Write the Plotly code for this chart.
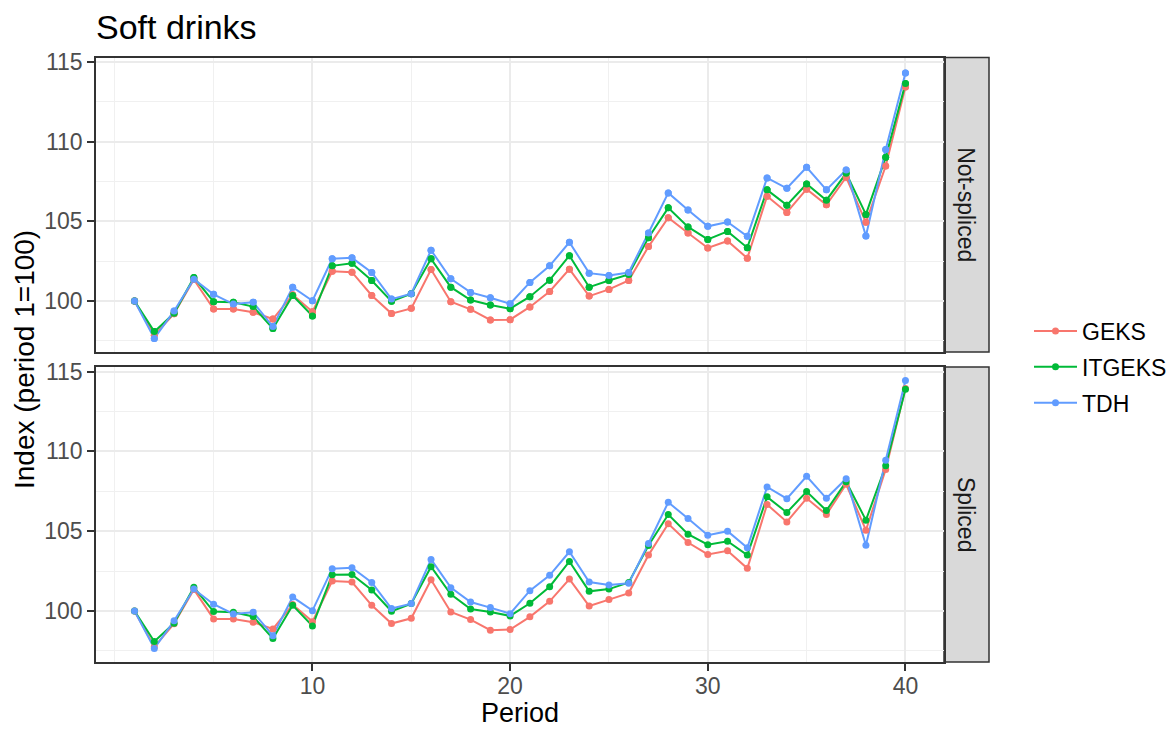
import plotly.graph_objects as go

periods = list(range(1, 41))
series_names = ["GEKS", "ITGEKS", "TDH"]
series_colors = ["#F8766D", "#00BA38", "#619CFF"]
panel_labels = ["Not-spliced", "Spliced"]

geks_not_spliced = [100, 97.85, 99.2, 101.35, 99.5, 99.5, 99.29, 98.87, 100.4, 99.33,
                    101.87, 101.81, 100.35, 99.21, 99.54, 101.98, 99.96, 99.48, 98.81, 98.83,
                    99.63, 100.6, 102.0, 100.31, 100.73, 101.29, 103.42, 105.23, 104.27, 103.33,
                    103.77, 102.69, 106.58, 105.56, 107.02, 106.04, 107.77, 104.94, 108.48, 113.44]
itgeks_not_spliced = [100, 98.08, 99.23, 101.48, 99.96, 99.92, 99.65, 98.27, 100.35, 99.06,
                      102.21, 102.37, 101.29, 99.98, 100.46, 102.65, 100.87, 100.06, 99.75, 99.52,
                      100.27, 101.31, 102.85, 100.87, 101.29, 101.67, 103.98, 105.85, 104.65, 103.87,
                      104.37, 103.35, 106.98, 106.02, 107.35, 106.33, 108.02, 105.44, 109.02, 113.65]
tdh_not_spliced = [100, 97.65, 99.38, 101.37, 100.42, 99.81, 99.92, 98.4, 100.87, 100.02,
                   102.65, 102.71, 101.79, 100.12, 100.46, 103.19, 101.4, 100.54, 100.21, 99.83,
                   101.17, 102.21, 103.69, 101.75, 101.6, 101.79, 104.27, 106.79, 105.71, 104.69,
                   104.96, 104.06, 107.73, 107.08, 108.4, 106.98, 108.23, 104.08, 109.52, 114.31]

geks_spliced = [100, 97.75, 99.2, 101.35, 99.5, 99.5, 99.29, 98.87, 100.4, 99.33,
                101.87, 101.81, 100.35, 99.21, 99.54, 101.96, 99.94, 99.46, 98.79, 98.83,
                99.63, 100.6, 102.0, 100.31, 100.71, 101.12, 103.5, 105.46, 104.29, 103.54,
                103.77, 102.67, 106.67, 105.58, 107.06, 106.04, 107.94, 105.06, 108.87, 113.95]
itgeks_spliced = [100, 98.08, 99.23, 101.48, 99.96, 99.92, 99.65, 98.27, 100.35, 99.06,
                  102.27, 102.29, 101.31, 99.98, 100.46, 102.77, 101.04, 100.12, 99.94, 99.69,
                  100.48, 101.52, 103.1, 101.23, 101.37, 101.79, 104.1, 106.04, 104.81, 104.15,
                  104.37, 103.5, 107.15, 106.17, 107.48, 106.29, 108.1, 105.69, 109.1, 113.9]
tdh_spliced = [100, 97.65, 99.38, 101.37, 100.42, 99.81, 99.92, 98.45, 100.87, 100.02,
               102.65, 102.71, 101.79, 100.15, 100.46, 103.23, 101.46, 100.56, 100.21, 99.83,
               101.27, 102.23, 103.71, 101.81, 101.62, 101.73, 104.23, 106.81, 105.79, 104.75,
               105.0, 103.96, 107.77, 107.04, 108.44, 107.06, 108.29, 104.12, 109.44, 114.44]

x_ticks = [10, 20, 30, 40]
x_minor = [0, 5, 15, 25, 35]
y_ticks = [100, 105, 110, 115]
y_minor = [97.5, 102.5, 107.5, 112.5]

# page has an 8px body margin; figure sized so it fits the 1176x735 window
OFF = 8
W, H = 1176 - 2 * OFF, 735 - 2 * OFF
FONT = "Liberation Sans, Arial, sans-serif"


def px_x(p):
    return (p - OFF) / W


def px_y(p):
    return 1 - (p - OFF) / H


panels = [
    ("x2", "y2", [geks_not_spliced, itgeks_not_spliced, tdh_not_spliced]),
    ("x", "y", [geks_spliced, itgeks_spliced, tdh_spliced]),
]

fig = go.Figure()
for pi, (xa, ya, data) in enumerate(panels):
    for name, col, vals in zip(series_names, series_colors, data):
        fig.add_trace(go.Scatter(
            x=periods, y=vals, xaxis=xa, yaxis=ya, name=name,
            mode="lines+markers" if pi == 0 else "lines",
            line=dict(color=col, width=2), marker=dict(color=col, size=7),
            legendgroup=name, showlegend=(pi == 0), hoverinfo="skip"))
    for name, col, vals in zip(series_names, series_colors, data):
        fig.add_trace(go.Scatter(
            x=periods, y=vals, xaxis=xa, yaxis=ya, name=name, mode="markers",
            marker=dict(color=col, size=7), legendgroup=name,
            showlegend=False, hoverinfo="skip"))

x_dom = [px_x(96), px_x(944)]
top_dom = [px_y(352), px_y(57.5)]
bot_dom = [px_y(662), px_y(367)]
xr = [-0.95, 41.95]
yr = [96.80, 115.29]

common_x = dict(range=xr, domain=x_dom, showline=True, mirror=True, linecolor="#333333",
                linewidth=1.5, showgrid=True, gridcolor="#ebebeb", gridwidth=2,
                tickmode="array", tickvals=x_ticks, zeroline=False, automargin=False,
                minor=dict(tickmode="array", tickvals=x_minor, showgrid=True,
                           gridcolor="#f0f0f0", gridwidth=1, ticks=""))
common_y = dict(range=yr, showline=True, mirror=True, linecolor="#333333",
                linewidth=1.5, showgrid=True, gridcolor="#ebebeb", gridwidth=2,
                tickmode="array", tickvals=y_ticks, zeroline=False, automargin=False,
                ticks="outside", ticklen=7, tickwidth=2, tickcolor="#333333",
                tickfont=dict(family=FONT, size=23, color="#4d4d4d"),
                minor=dict(tickmode="array", tickvals=y_minor, showgrid=True,
                           gridcolor="#f0f0f0", gridwidth=1, ticks=""))

fig.update_layout(
    width=W, height=H,
    margin=dict(l=0, r=0, t=0, b=0, pad=0, autoexpand=False),
    paper_bgcolor="white", plot_bgcolor="white",
    font=dict(family=FONT, size=23, color="#000000"),
    xaxis=dict(common_x, anchor="y", ticks="outside", ticklen=7, tickwidth=2,
               tickcolor="#333333", ticklabelstandoff=-4,
               tickfont=dict(family=FONT, size=23, color="#4d4d4d")),
    xaxis2=dict(common_x, anchor="y2", matches="x", showticklabels=False, ticks=""),
    yaxis=dict(common_y, domain=bot_dom, anchor="x"),
    yaxis2=dict(common_y, domain=top_dom, anchor="x2"),
    legend=dict(x=px_x(1029), xanchor="left", y=px_y(367), yanchor="middle",
                font=dict(family=FONT, size=23, color="#000000"),
                itemwidth=43, tracegroupgap=3, bgcolor="rgba(0,0,0,0)"),
    showlegend=True,
)

shapes = []
annotations = []
for label, (y0, y1) in zip(panel_labels, [(57.5, 352), (367, 662)]):
    shapes.append(dict(type="rect", xref="paper", yref="paper",
                       x0=px_x(944), x1=px_x(989), y0=px_y(y1), y1=px_y(y0),
                       fillcolor="#d9d9d9", line=dict(color="#333333", width=1.5),
                       layer="below"))
    annotations.append(dict(text=label, xref="paper", yref="paper",
                            x=px_x(966.5), y=px_y((y0 + y1) / 2),
                            xanchor="center", yanchor="middle", textangle=90,
                            showarrow=False,
                            font=dict(family=FONT, size=23, color="#1a1a1a")))

annotations.append(dict(text="Soft drinks", xref="paper", yref="paper",
                        x=px_x(94), y=px_y(27), xanchor="left", yanchor="middle",
                        showarrow=False, font=dict(family=FONT, size=34, color="#000000")))
annotations.append(dict(text="Period", xref="paper", yref="paper",
                        x=px_x(520), y=px_y(713), xanchor="center", yanchor="middle",
                        showarrow=False, font=dict(family=FONT, size=27, color="#000000")))
annotations.append(dict(text="Index (period 1=100)", xref="paper", yref="paper",
                        x=px_x(25), y=px_y(360), xanchor="center", yanchor="middle",
                        textangle=-90, showarrow=False,
                        font=dict(family=FONT, size=28, color="#000000")))

fig.update_layout(shapes=shapes, annotations=annotations)
fig.write_html("out.html")
